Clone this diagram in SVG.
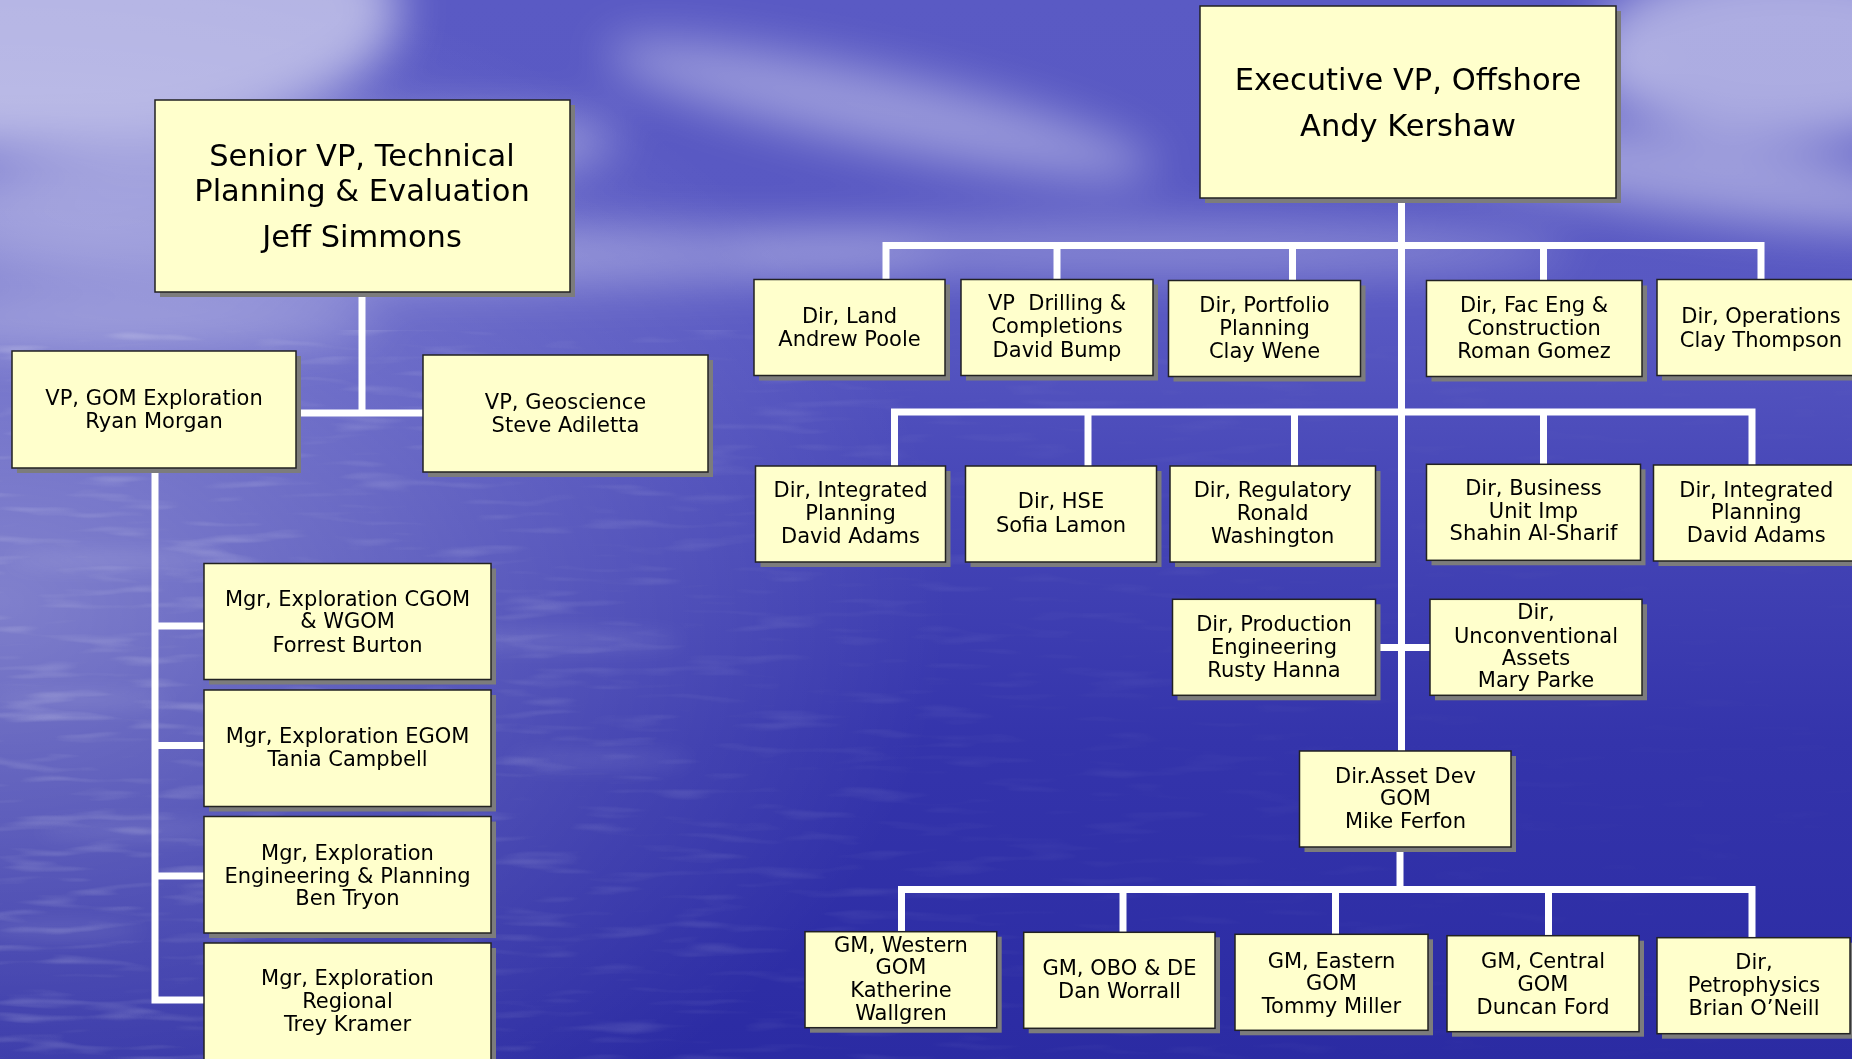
<svg xmlns="http://www.w3.org/2000/svg" width="1852" height="1059" viewBox="0 0 1852 1059">
<defs>
<linearGradient id="sky" x1="0" y1="0" x2="0" y2="1">
<stop offset="0" stop-color="#5a5ac4"/>
<stop offset="0.3" stop-color="#5858c2"/>
<stop offset="0.45" stop-color="#4848b8"/>
<stop offset="0.7" stop-color="#3434ab"/>
<stop offset="1" stop-color="#2b2ba3"/>
</linearGradient>
<radialGradient id="leftglow" cx="0" cy="600" r="1" gradientUnits="userSpaceOnUse" gradientTransform="translate(0 600) scale(950 650) translate(0 -600)">
<stop offset="0" stop-color="#ffffff" stop-opacity="0.34"/>
<stop offset="0.55" stop-color="#ffffff" stop-opacity="0.14"/>
<stop offset="1" stop-color="#ffffff" stop-opacity="0"/>
</radialGradient>
<linearGradient id="fadeX" x1="0" y1="0" x2="1" y2="0">
<stop offset="0" stop-color="#ffffff"/>
<stop offset="0.45" stop-color="#ffffff" stop-opacity="0.35"/>
<stop offset="0.75" stop-color="#ffffff" stop-opacity="0.1"/>
<stop offset="1" stop-color="#ffffff" stop-opacity="0.05"/>
</linearGradient>
<mask id="oceanMask" maskUnits="userSpaceOnUse" x="0" y="0" width="1852" height="1059">
<rect x="0" y="330" width="1852" height="729" fill="url(#fadeX)"/>
</mask>
<filter id="waves" x="0" y="0" width="100%" height="100%" filterUnits="userSpaceOnUse">
<feTurbulence type="fractalNoise" baseFrequency="0.012 0.09" numOctaves="2" seed="7"/>
<feColorMatrix type="matrix" values="0 0 0 0 1  0 0 0 0 1  0 0 0 0 1  3 0 0 0 -1.6"/>
</filter>
<filter id="blur" x="-50%" y="-50%" width="200%" height="200%">
<feGaussianBlur stdDeviation="24"/>
</filter>
<filter id="blur2" x="-50%" y="-50%" width="200%" height="200%">
<feGaussianBlur stdDeviation="10"/>
</filter>
<style>
.s{fill:#7c7c7c}
.b{fill:#ffffcc;stroke:#222;stroke-width:1.5}
text{font-family:"DejaVu Sans","Liberation Sans",sans-serif;font-size:21px;fill:#000;text-anchor:middle}
.big text{font-size:30.5px}
</style>
</defs>

<g id="background">
<rect width="1852" height="1059" fill="url(#sky)"/>
<rect width="1852" height="1059" fill="url(#leftglow)"/>
<g mask="url(#oceanMask)">
<rect x="0" y="330" width="1852" height="729" filter="url(#waves)" opacity="0.2"/>
</g>
<g filter="url(#blur)" fill="#ffffff">
<ellipse cx="20" cy="10" rx="380" ry="140" opacity="0.55"/>
<ellipse cx="260" cy="175" rx="360" ry="45" opacity="0.38" transform="rotate(-6 260 175)"/>
<ellipse cx="420" cy="255" rx="520" ry="28" opacity="0.36"/>
<ellipse cx="120" cy="320" rx="260" ry="30" opacity="0.3"/>
<ellipse cx="880" cy="110" rx="280" ry="38" opacity="0.38" transform="rotate(12 880 110)"/>
<ellipse cx="1150" cy="250" rx="420" ry="26" opacity="0.3"/>
<ellipse cx="1790" cy="50" rx="200" ry="90" opacity="0.5"/>
<ellipse cx="1690" cy="175" rx="280" ry="40" opacity="0.42" transform="rotate(8 1690 175)"/>
<ellipse cx="1500" cy="80" rx="160" ry="22" opacity="0.22"/>
</g>
<g filter="url(#blur2)" fill="#ffffff" opacity="0.2">
<ellipse cx="120" cy="560" rx="110" ry="5"/>
<ellipse cx="80" cy="700" rx="90" ry="4"/>
<ellipse cx="560" cy="640" rx="120" ry="5"/>
<ellipse cx="140" cy="830" rx="100" ry="4"/>
<ellipse cx="600" cy="760" rx="90" ry="4"/>
<ellipse cx="60" cy="930" rx="80" ry="4"/>
</g>
</g>

<g id="connectors" fill="none" stroke="#ffffff" stroke-width="7" stroke-linejoin="miter">
<path d="M362 292 V413"/>
<path d="M296 413 H423"/>
<path d="M155 468 V1000 H204"/>
<path d="M155 626 H204"/>
<path d="M155 745.5 H204"/>
<path d="M155 876 H204"/>
<path d="M1401.5 198 V751"/>
<path d="M886 280 V245.5 H1761 V280"/>
<path d="M1057 245.5 V280"/>
<path d="M1292.5 245.5 V281"/>
<path d="M1543.5 245.5 V281"/>
<path d="M894.5 466 V412 H1752 V465"/>
<path d="M1088 412 V466"/>
<path d="M1294.5 412 V466"/>
<path d="M1543.5 412 V464"/>
<path d="M1375 647.5 H1430"/>
<path d="M1400 847 V889.5"/>
<path d="M901.5 932 V889.5 H1752 V938"/>
<path d="M1123 889.5 V932"/>
<path d="M1335.5 889.5 V934"/>
<path d="M1548.5 889.5 V936"/>
</g>

<g id="senior" class="big">
<rect class="s" x="160" y="105" width="415" height="192"/>
<rect class="b" x="155" y="100" width="415" height="192"/>
<text x="362" y="166">Senior VP, Technical</text>
<text x="362" y="200.5">Planning &amp; Evaluation</text>
<text x="362" y="247">Jeff Simmons</text>
</g>

<g id="exec" class="big">
<rect class="s" x="1205" y="11" width="416" height="192"/>
<rect class="b" x="1200" y="6" width="416" height="192"/>
<text x="1408" y="89.5">Executive VP, Offshore</text>
<text x="1408" y="136">Andy Kershaw</text>
</g>

<g id="vp-gom">
<rect class="s" x="17" y="356" width="284" height="117"/>
<rect class="b" x="12" y="351" width="284" height="117"/>
<text x="154" y="405">VP, GOM Exploration</text>
<text x="154" y="428">Ryan Morgan</text>
</g>

<g id="vp-geo">
<rect class="s" x="428" y="360" width="285" height="117"/>
<rect class="b" x="423" y="355" width="285" height="117"/>
<text x="565.5" y="409">VP, Geoscience</text>
<text x="565.5" y="432">Steve Adiletta</text>
</g>

<g id="mgr-cgom">
<rect class="s" x="209" y="568.5" width="287" height="116"/>
<rect class="b" x="204" y="563.5" width="287" height="116"/>
<text x="347.5" y="605.5">Mgr, Exploration CGOM</text>
<text x="347.5" y="628">&amp; WGOM</text>
<text x="347.5" y="651.5">Forrest Burton</text>
</g>

<g id="mgr-egom">
<rect class="s" x="209" y="695" width="287" height="116.5"/>
<rect class="b" x="204" y="690" width="287" height="116.5"/>
<text x="347.5" y="743">Mgr, Exploration EGOM</text>
<text x="347.5" y="766">Tania Campbell</text>
</g>

<g id="mgr-eng">
<rect class="s" x="209" y="821.5" width="287" height="116.5"/>
<rect class="b" x="204" y="816.5" width="287" height="116.5"/>
<text x="347.5" y="859.5">Mgr, Exploration</text>
<text x="347.5" y="882.5">Engineering &amp; Planning</text>
<text x="347.5" y="905">Ben Tryon</text>
</g>

<g id="mgr-regional">
<rect class="s" x="209" y="948" width="287" height="120"/>
<rect class="b" x="204" y="943" width="287" height="120"/>
<text x="347.5" y="985">Mgr, Exploration</text>
<text x="347.5" y="1008">Regional</text>
<text x="347.5" y="1031">Trey Kramer</text>
</g>

<g id="dir-land">
<rect class="s" x="759" y="284.5" width="191" height="96"/>
<rect class="b" x="754" y="279.5" width="191" height="96"/>
<text x="849.5" y="322.7">Dir, Land</text>
<text x="849.5" y="345.7">Andrew Poole</text>
</g>

<g id="vp-drilling">
<rect class="s" x="966" y="284.5" width="192" height="96"/>
<rect class="b" x="961" y="279.5" width="192" height="96"/>
<text x="1057" y="310" xml:space="preserve">VP  Drilling &amp;</text>
<text x="1057" y="333.3">Completions</text>
<text x="1057" y="356.7">David Bump</text>
</g>

<g id="dir-portfolio">
<rect class="s" x="1173.5" y="285.5" width="192" height="96"/>
<rect class="b" x="1168.5" y="280.5" width="192" height="96"/>
<text x="1264.5" y="311.7">Dir, Portfolio</text>
<text x="1264.5" y="335">Planning</text>
<text x="1264.5" y="358.3">Clay Wene</text>
</g>

<g id="dir-faceng">
<rect class="s" x="1431.5" y="285.5" width="215.5" height="96"/>
<rect class="b" x="1426.5" y="280.5" width="215.5" height="96"/>
<text x="1534" y="311.7">Dir, Fac Eng &amp;</text>
<text x="1534" y="335">Construction</text>
<text x="1534" y="358.3">Roman Gomez</text>
</g>

<g id="dir-operations">
<rect class="s" x="1662" y="284.5" width="200" height="96"/>
<rect class="b" x="1657" y="279.5" width="200" height="96"/>
<text x="1761" y="323.3">Dir, Operations</text>
<text x="1761" y="346.7">Clay Thompson</text>
</g>

<g id="dir-integrated-1">
<rect class="s" x="760.5" y="471" width="190" height="96"/>
<rect class="b" x="755.5" y="466" width="190" height="96"/>
<text x="850.5" y="496.7">Dir, Integrated</text>
<text x="850.5" y="520">Planning</text>
<text x="850.5" y="542.7">David Adams</text>
</g>

<g id="dir-hse">
<rect class="s" x="970.5" y="471" width="191" height="96"/>
<rect class="b" x="965.5" y="466" width="191" height="96"/>
<text x="1061" y="508.3">Dir, HSE</text>
<text x="1061" y="531.7">Sofia Lamon</text>
</g>

<g id="dir-regulatory">
<rect class="s" x="1175" y="471" width="205.5" height="96"/>
<rect class="b" x="1170" y="466" width="205.5" height="96"/>
<text x="1272.7" y="496.7">Dir, Regulatory</text>
<text x="1272.7" y="520">Ronald</text>
<text x="1272.7" y="543.3">Washington</text>
</g>

<g id="dir-business">
<rect class="s" x="1431.5" y="469.3" width="214" height="96"/>
<rect class="b" x="1426.5" y="464.3" width="214" height="96"/>
<text x="1533.5" y="495">Dir, Business</text>
<text x="1533.5" y="518.3">Unit Imp</text>
<text x="1533.5" y="540">Shahin Al-Sharif</text>
</g>

<g id="dir-integrated-2">
<rect class="s" x="1658.5" y="470" width="205" height="96"/>
<rect class="b" x="1653.5" y="465" width="205" height="96"/>
<text x="1756.3" y="496.7">Dir, Integrated</text>
<text x="1756.3" y="519.3">Planning</text>
<text x="1756.3" y="541.7">David Adams</text>
</g>

<g id="dir-production">
<rect class="s" x="1177.5" y="604.3" width="203" height="96"/>
<rect class="b" x="1172.5" y="599.3" width="203" height="96"/>
<text x="1274" y="631">Dir, Production</text>
<text x="1274" y="654.3">Engineering</text>
<text x="1274" y="676.7">Rusty Hanna</text>
</g>

<g id="dir-unconventional">
<rect class="s" x="1435" y="604.3" width="212" height="96"/>
<rect class="b" x="1430" y="599.3" width="212" height="96"/>
<text x="1536" y="619.3">Dir,</text>
<text x="1536" y="642.7">Unconventional</text>
<text x="1536" y="665">Assets</text>
<text x="1536" y="687.3">Mary Parke</text>
</g>

<g id="dir-asset-dev">
<rect class="s" x="1304.5" y="756" width="211.5" height="96"/>
<rect class="b" x="1299.5" y="751" width="211.5" height="96"/>
<text x="1405.5" y="782.7">Dir.Asset Dev</text>
<text x="1405.5" y="805">GOM</text>
<text x="1405.5" y="828.3">Mike Ferfon</text>
</g>

<g id="gm-western">
<rect class="s" x="810" y="936.7" width="191.7" height="96"/>
<rect class="b" x="805" y="931.7" width="191.7" height="96"/>
<text x="901" y="951.7">GM, Western</text>
<text x="901" y="974.3">GOM</text>
<text x="901" y="997.3">Katherine</text>
<text x="901" y="1020">Wallgren</text>
</g>

<g id="gm-obo">
<rect class="s" x="1028.7" y="937.3" width="191.3" height="96"/>
<rect class="b" x="1023.7" y="932.3" width="191.3" height="96"/>
<text x="1119.4" y="975">GM, OBO &amp; DE</text>
<text x="1119.4" y="997.7">Dan Worrall</text>
</g>

<g id="gm-eastern">
<rect class="s" x="1240" y="939.3" width="193" height="96"/>
<rect class="b" x="1235" y="934.3" width="193" height="96"/>
<text x="1331.5" y="967.7">GM, Eastern</text>
<text x="1331.5" y="990">GOM</text>
<text x="1331.5" y="1012.7">Tommy Miller</text>
</g>

<g id="gm-central">
<rect class="s" x="1452" y="940.7" width="192" height="96"/>
<rect class="b" x="1447" y="935.7" width="192" height="96"/>
<text x="1543" y="968.3">GM, Central</text>
<text x="1543" y="990.7">GOM</text>
<text x="1543" y="1014">Duncan Ford</text>
</g>

<g id="dir-petrophysics">
<rect class="s" x="1662" y="942.7" width="193" height="96"/>
<rect class="b" x="1657" y="937.7" width="193" height="96"/>
<text x="1754" y="969.3">Dir,</text>
<text x="1754" y="992.3">Petrophysics</text>
<text x="1754" y="1015.3">Brian O’Neill</text>
</g>
</svg>
